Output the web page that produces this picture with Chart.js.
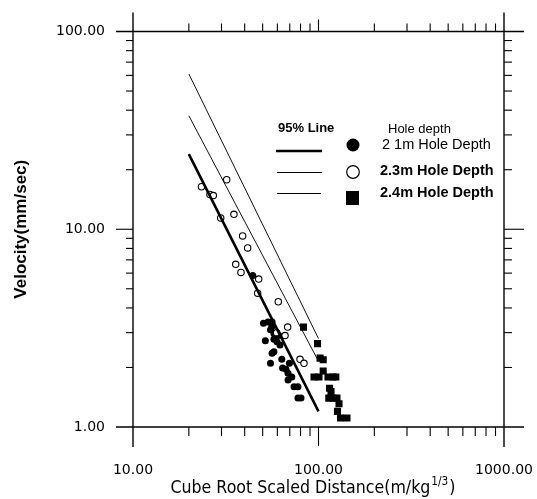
<!DOCTYPE html>
<html>
<head>
<meta charset="utf-8">
<script src="https://cdn.jsdelivr.net/npm/chart.js@4/dist/chart.umd.min.js"></script>
<style>
  html, body { margin: 0; padding: 0; background: #fff; }
  #wrap { width: 537px; height: 499px; position: relative; }
</style>
</head>
<body>
<div id="wrap"><canvas id="c" width="537" height="499"></canvas></div>
<script>
// ---- data ----
const xTickValues = [10,20,30,40,50,60,70,80,90,100,200,300,400,500,600,700,800,900,1000];
const yTickValues = [1,2,3,4,5,6,7,8,9,10,20,30,40,50,60,70,80,90,100];
const xMajorValues = [10, 100, 1000];
const xMajorLabels = ['10.00', '100.00', '1000.00'];
const yMajorValues = [1, 10, 100];
const yMajorLabels = ['1.00', '10.00', '100.00'];

const lineX = [20, 100];
const line95Y = [24, 1.2];
const lineMidY = [37.5, 2.15];
const lineTopY = [61, 2.8];

const depth21X = [44.2, 50.5, 53.4, 56.2, 55.9, 55.1, 57.5, 61.2, 51.7, 57.5, 59.7, 62.0, 56.2, 57.5, 55.1, 63.4, 69.7, 64.0, 66.8, 68.5, 71.8, 68.5, 73.8, 77.5, 77.5, 80.5];
const depth21Y = [5.84, 3.35, 3.4, 3.4, 3.2, 3.1, 2.97, 2.9, 2.73, 2.78, 2.7, 2.6, 2.36, 2.4, 2.1, 2.2, 2.1, 1.99, 1.96, 1.87, 1.79, 1.73, 1.6, 1.6, 1.4, 1.4];

const depth23X = [23.4, 26.0, 27.1, 32.0, 29.7, 35.0, 39.0, 41.5, 35.8, 38.2, 47.6, 47.0, 60.7, 68.2, 66.0, 59.5, 79.5, 83.5];
const depth23Y = [16.4, 15.0, 14.8, 17.8, 11.4, 11.9, 9.25, 8.05, 6.65, 6.05, 5.6, 4.75, 4.3, 3.2, 2.9, 3.0, 2.2, 2.1];

const depth24X = [83, 98.8, 102, 106, 106, 94.6, 100.6, 112.5, 119.7, 124, 114.7, 116.8, 113.6, 119.7, 125.8, 129, 126.6, 131.4, 142.4];
const depth24Y = [3.2, 2.64, 2.23, 2.19, 1.92, 1.79, 1.79, 1.79, 1.79, 1.79, 1.57, 1.51, 1.40, 1.40, 1.40, 1.31, 1.2, 1.11, 1.11];

const legendTitle = '95% Line';
const legendHeader = 'Hole depth';
const seriesNames = ['2 1m Hole Depth', '2.3m Hole Depth', '2.4m Hole Depth'];
const xTitleMain = 'Cube Root Scaled Distance(m/kg';
const xTitleSup = '1/3';
const xTitleEnd = ')';
const yTitle = 'Velocity(mm/sec)';

// ---- helpers ----
const pts = (xs, ys) => xs.map((x, i) => ({ x: x, y: ys[i] }));
const labelFor = (vals, labels) => (v) => { const i = vals.indexOf(Number(v)); return i >= 0 ? labels[i] : ''; };

// frame with ticks drawn from scales
const framePlugin = {
  id: 'frame',
  afterDraw(chart) {
    const ctx = chart.ctx, ca = chart.chartArea;
    const xs = chart.scales.x, ys = chart.scales.y;
    ctx.save();
    ctx.strokeStyle = '#000';
    ctx.lineWidth = 1.4;
    const ln = (x1, y1, x2, y2) => { ctx.beginPath(); ctx.moveTo(x1, y1); ctx.lineTo(x2, y2); ctx.stroke(); };
    ln(ca.left - 17, ca.top, ca.right + 20, ca.top);
    ln(ca.left - 17, ca.bottom, ca.right + 20, ca.bottom);
    ln(ca.left, ca.top - 19, ca.left, ca.bottom + 20);
    ln(ca.right, ca.top - 19, ca.right, ca.bottom + 20);
    ctx.lineWidth = 1.1;
    xTickValues.forEach(v => {
      if (v === 10 || v === 1000) return;
      const p = xs.getPixelForValue(v);
      const major = xMajorValues.includes(v);
      ln(p, ca.top, p, ca.top - (major ? 12 : 8));
      ln(p, ca.bottom, p, ca.bottom + (major ? 19 : 9));
    });
    yTickValues.forEach(v => {
      if (v === 1 || v === 100) return;
      const p = ys.getPixelForValue(v);
      const major = yMajorValues.includes(v);
      ln(ca.left, p, ca.left - (major ? 17 : 7), p);
      ln(ca.right, p, ca.right + (major ? 20 : 8), p);
    });
    ctx.restore();
  }
};

// legend block and x-axis title with superscript
const legendPlugin = {
  id: 'customLegend',
  afterDraw(chart) {
    const ctx = chart.ctx;
    ctx.save();
    ctx.fillStyle = '#000';
    ctx.strokeStyle = '#000';
    ctx.textBaseline = 'middle';
    ctx.textAlign = 'left';
    ctx.font = 'bold 13px "Liberation Sans", Arial, sans-serif';
    ctx.fillText(legendTitle, 278, 128);
    ctx.font = '13px "Liberation Sans", Arial, sans-serif';
    ctx.fillText(legendHeader, 388, 129);
    ctx.font = '14.5px "Liberation Sans", Arial, sans-serif';
    ctx.fillText(seriesNames[0], 382, 145);
    ctx.font = 'bold 14.5px "Liberation Sans", Arial, sans-serif';
    ctx.fillText(seriesNames[1], 380, 171);
    ctx.fillText(seriesNames[2], 380, 193);
    // line samples
    ctx.lineWidth = 2.6;
    ctx.beginPath(); ctx.moveTo(276, 151); ctx.lineTo(322, 151); ctx.stroke();
    ctx.lineWidth = 1;
    ctx.beginPath(); ctx.moveTo(277, 172.5); ctx.lineTo(322, 172.5); ctx.stroke();
    ctx.beginPath(); ctx.moveTo(277, 193.5); ctx.lineTo(321, 193.5); ctx.stroke();
    // markers
    ctx.beginPath(); ctx.arc(353, 145, 6.5, 0, Math.PI * 2); ctx.fill();
    ctx.lineWidth = 1.2;
    ctx.beginPath(); ctx.arc(353, 172, 6.3, 0, Math.PI * 2); ctx.fillStyle = '#fff'; ctx.fill(); ctx.stroke();
    ctx.fillStyle = '#000';
    ctx.fillRect(346, 191, 13, 14);

    // x title
    const cx = 312, by = 493;
    ctx.textBaseline = 'alphabetic';
    const mainFont = '18px "DejaVu Sans", sans-serif';
    const supFont = '12px "DejaVu Sans", sans-serif';
    ctx.font = mainFont;
    const w1 = ctx.measureText(xTitleMain).width;
    const w3 = ctx.measureText(xTitleEnd).width;
    ctx.font = supFont;
    const w2 = ctx.measureText(xTitleSup).width;
    const sx = 0.88;
    const total = (w1 + w2 + w3) * sx;
    ctx.translate(cx - total / 2, by);
    ctx.scale(sx, 1);
    ctx.font = mainFont;
    ctx.fillText(xTitleMain, 0, 0);
    ctx.font = supFont;
    ctx.fillText(xTitleSup, w1 + 1, -8);
    ctx.font = mainFont;
    ctx.fillText(xTitleEnd, w1 + w2 + 2, 0);
    ctx.restore();
  }
};

new Chart(document.getElementById('c'), {
  type: 'scatter',
  data: {
    datasets: [
      { type: 'line', label: '95% Line', data: pts(lineX, line95Y), borderColor: '#000', borderWidth: 2.6, pointRadius: 0, fill: false, showLine: true },
      { type: 'line', label: 'Upper line 1', data: pts(lineX, lineMidY), borderColor: '#111', borderWidth: 1, pointRadius: 0, fill: false, showLine: true },
      { type: 'line', label: 'Upper line 2', data: pts(lineX, lineTopY), borderColor: '#111', borderWidth: 1, pointRadius: 0, fill: false, showLine: true },
      { label: seriesNames[1], data: pts(depth23X, depth23Y), pointStyle: 'circle', pointRadius: 3.2, backgroundColor: '#fff', borderColor: '#000', borderWidth: 1.1 },
      { label: seriesNames[0], data: pts(depth21X, depth21Y), pointStyle: 'circle', pointRadius: 3.5, backgroundColor: '#000', borderColor: '#000', borderWidth: 0 },
      { label: seriesNames[2], data: pts(depth24X, depth24Y), pointStyle: 'rect', pointRadius: 5, backgroundColor: '#000', borderColor: '#000', borderWidth: 0 }
    ]
  },
  options: {
    responsive: false,
    animation: false,
    devicePixelRatio: 1,
    layout: { padding: { top: 31.5, right: 33, left: 0, bottom: 0 } },
    plugins: { legend: { display: false }, tooltip: { enabled: false } },
    scales: {
      x: {
        type: 'logarithmic', position: 'bottom', min: 10, max: 1000,
        grid: { display: false, drawTicks: false }, border: { display: false },
        afterBuildTicks: s => { s.ticks = xTickValues.map(v => ({ value: v })); },
        afterFit: s => { s.height = 72; s.paddingLeft = 0; s.paddingRight = 0; s.paddingTop = 0; s.paddingBottom = 0; },
        ticks: { autoSkip: false, maxRotation: 0, minRotation: 0, padding: 35, color: '#000',
          font: { family: '"DejaVu Sans", sans-serif', size: 14 },
          callback: labelFor(xMajorValues, xMajorLabels) }
      },
      y: {
        type: 'logarithmic', position: 'left', min: 1, max: 100,
        grid: { display: false, drawTicks: false }, border: { display: false },
        afterBuildTicks: s => { s.ticks = yTickValues.map(v => ({ value: v })); },
        afterFit: s => { s.width = 133; s.paddingLeft = 0; s.paddingRight = 0; s.paddingTop = 0; s.paddingBottom = 0; },
        ticks: { autoSkip: false, padding: 28, color: '#000',
          font: { family: '"DejaVu Sans", sans-serif', size: 14 },
          callback: labelFor(yMajorValues, yMajorLabels) },
        title: { display: true, text: yTitle, color: '#000', padding: { top: 11, bottom: 0 },
          font: { family: '"Liberation Sans", Arial, sans-serif', size: 17, weight: 'bold' } }
      }
    }
  },
  plugins: [framePlugin, legendPlugin]
});
</script>
</body>
</html>
